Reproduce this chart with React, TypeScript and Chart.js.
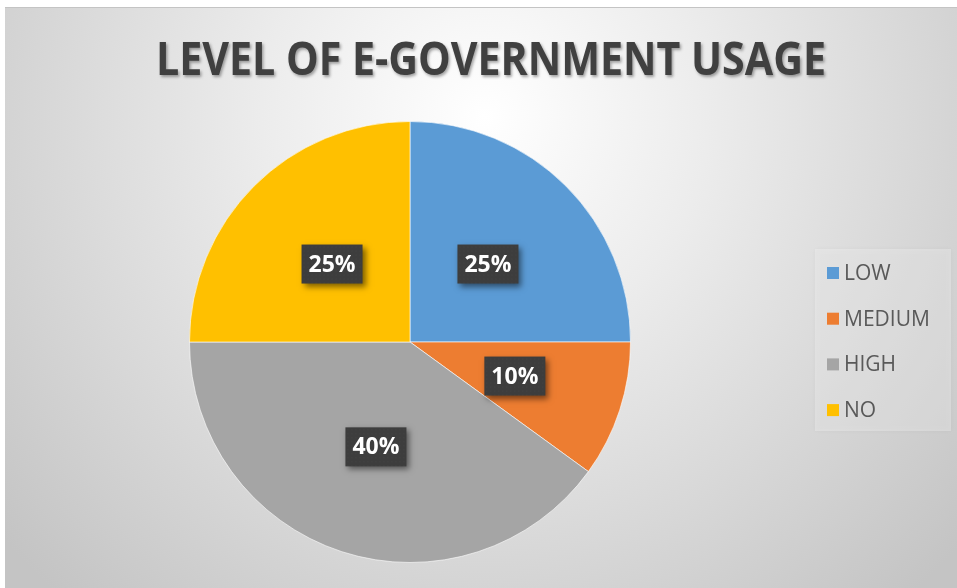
import React, { useEffect, useRef } from "react";
import { Chart, registerables } from "chart.js";

Chart.register(...registerables);

const TITLE = "LEVEL OF E-GOVERNMENT USAGE";
const categories = ["LOW", "MEDIUM", "HIGH", "NO"];
const values = [25, 10, 40, 25];
const colors = ["#5B9BD5", "#ED7D31", "#A5A5A5", "#FFC000"];

const W = 952;
const H = 581;

const backgroundPlugin = {
  id: "bgPlugin",
  beforeDraw(chart: any) {
    const { ctx } = chart;
    ctx.save();
    const g = ctx.createRadialGradient(480, 110, 0, 480, 110, 640);
    g.addColorStop(0, "#ffffff");
    g.addColorStop(0.35, "#ececec");
    g.addColorStop(1, "#c4c4c4");
    ctx.fillStyle = g;
    ctx.fillRect(0, 0, W, H);
    ctx.fillStyle = "#c4c4c4";
    ctx.fillRect(0, 0, W, 1);
    ctx.restore();
  },
};

const titlePlugin = {
  id: "titlePlugin",
  afterDraw(chart: any) {
    const { ctx } = chart;
    ctx.save();
    ctx.font = "bold 46px 'Open Sans'";
    const m = ctx.measureText(TITLE).width;
    const target = 670;
    const sx = target / m;
    ctx.translate(486, 55);
    ctx.scale(sx, 1);
    ctx.textAlign = "center";
    ctx.textBaseline = "middle";
    ctx.shadowColor = "rgba(0,0,0,0.35)";
    ctx.shadowBlur = 3;
    ctx.shadowOffsetX = 1.5;
    ctx.shadowOffsetY = 2;
    ctx.fillStyle = "#404040";
    ctx.fillText(TITLE, 0, 0);
    ctx.restore();
  },
};

const legendPlugin = {
  id: "customLegend",
  afterDraw(chart: any) {
    const { ctx } = chart;
    ctx.save();
    ctx.shadowColor = "rgba(0,0,0,0.12)";
    ctx.shadowBlur = 4;
    ctx.fillStyle = "rgba(255,255,255,0.28)";
    ctx.fillRect(810, 242, 136, 182);
    ctx.restore();
    ctx.save();
    ctx.font = "21px 'Open Sans'";
    ctx.textBaseline = "middle";
    ctx.textAlign = "left";
    categories.forEach((c, i) => {
      const cy = 266 + i * 45.7;
      ctx.fillStyle = colors[i];
      ctx.fillRect(822, cy - 6, 12, 12);
      ctx.fillStyle = "#595959";
      ctx.fillText(c, 839, cy + 1);
    });
    ctx.restore();
  },
};

const labelPlugin = {
  id: "sliceLabels",
  afterDatasetsDraw(chart: any) {
    const { ctx } = chart;
    const meta = chart.getDatasetMeta(0);
    const total = values.reduce((a, b) => a + b, 0);
    meta.data.forEach((arc: any, i: number) => {
      const p = arc.tooltipPosition(false);
      const text = Math.round((values[i] / total) * 100) + "%";
      const bw = 61;
      const bh = 39;
      ctx.save();
      ctx.shadowColor = "rgba(0,0,0,0.5)";
      ctx.shadowBlur = 6;
      ctx.shadowOffsetX = 3;
      ctx.shadowOffsetY = 3;
      ctx.fillStyle = "#3d3d3d";
      ctx.fillRect(p.x - bw / 2, p.y - bh / 2, bw, bh);
      ctx.restore();
      ctx.save();
      ctx.fillStyle = "rgba(255,255,255,0.05)";
      for (let yy = p.y - bh / 2 + 2; yy < p.y + bh / 2; yy += 4) {
        for (let xx = p.x - bw / 2 + 2; xx < p.x + bw / 2; xx += 4) {
          ctx.fillRect(xx, yy, 1, 1);
        }
      }
      ctx.font = "bold 23px 'Open Sans'";
      ctx.textAlign = "center";
      ctx.textBaseline = "middle";
      ctx.fillStyle = "#ffffff";
      ctx.fillText(text, p.x, p.y + 1);
      ctx.restore();
    });
  },
};

export default function App() {
  const ref = useRef<HTMLCanvasElement | null>(null);
  useEffect(() => {
    document.body.style.margin = "0";
    const canvas = ref.current;
    if (!canvas) return;
    const chart = new Chart(canvas, {
      type: "pie",
      data: {
        labels: categories,
        datasets: [
          {
            data: values,
            backgroundColor: colors,
            borderColor: "rgba(255,255,255,0.6)",
            borderWidth: 1,
          },
        ],
      },
      options: {
        responsive: false,
        animation: false,
        devicePixelRatio: 1,
        layout: { padding: { left: 184, top: 114, right: 326, bottom: 25 } },
        plugins: {
          legend: { display: false },
          title: { display: false },
          tooltip: { enabled: false },
        },
      },
      plugins: [backgroundPlugin, labelPlugin, titlePlugin, legendPlugin],
    });
    return () => chart.destroy();
  }, []);
  return (
    <div style={{ width: 957, height: 588, background: "#ffffff", position: "relative" }}>
      <canvas
        ref={ref}
        width={W}
        height={H}
        style={{ position: "absolute", left: 5, top: 7, width: W, height: H, display: "block" }}
      />
    </div>
  );
}
